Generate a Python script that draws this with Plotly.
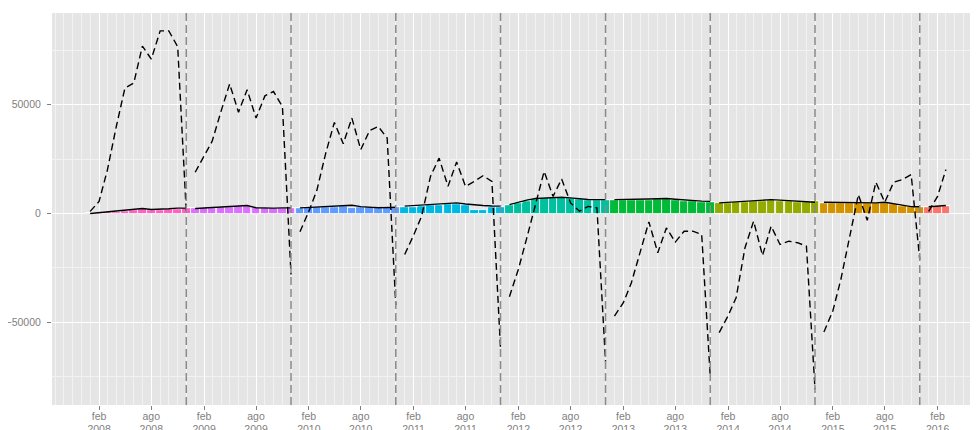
import pandas as pd
import plotly.graph_objects as go

# meses con dato (ene 2008 - mar 2016)
meses = pd.date_range("2008-01-01", "2016-03-01", freq="MS")

anios = [2008, 2009, 2010, 2011, 2012, 2013, 2014, 2015, 2016]
colores = ["#FF61C3", "#DB72FB", "#619CFF", "#00B9E3", "#00C19F",
           "#00BA38", "#93AA00", "#D39200", "#F8766D"]

# barras mensuales (parte positiva y parte negativa apilada)
barras = [
    200, 300, 600, 900, 1200, 1500, 2100, 1600, 1700, 2000, 2300, 2400,
    2400, 2500, 2700, 2900, 3100, 3300, 3600, 2500, 2400, 2400, 2500, 2500,
    2700, 2800, 2900, 3000, 3100, 3300, 2700, 3000, 2800, 2700, 2800, 2900,
    3000, 3200, 3500, 3800, 4100, 4400, 4600, 4000, 1800, 1800, 3200, 3200,
    3800, 5000, 6000, 6600, 7000, 7300, 7400, 7100, 6700, 6400, 6200, 6200,
    6100, 6100, 6200, 6300, 6400, 6500, 6500, 6300, 5900, 5700, 5500, 5400,
    4700, 4900, 5100, 5400, 5600, 5900, 6100, 5900, 5600, 5400, 5200, 5600,
    4900, 4900, 4800, 4800, 4800, 4700, 4700, 4900, 4300, 3600, 3000, 2900,
    3000, 3400, 3600,
]
barras_neg = [
    0, 0, 0, 0, 0, 0, -500, 0, 0, 0, 0, 0,
    0, 0, 0, 0, 0, 0, 0, -500, 0, 0, 0, 0,
    0, 0, 0, 0, 0, 0, -500, 0, 0, 0, 0, 0,
    0, 0, 0, 0, 0, 0, 0, 0, -800, -800, 0, 0,
    0, 0, 0, 0, 0, 0, 0, 0, 0, 0, 0, 0,
    0, 0, 0, 0, 0, 0, 0, 0, 0, 0, 0, 0,
    -400, 0, 0, 0, 0, 0, 0, 0, 0, 0, 0, 0,
    0, 0, 0, 0, 0, 0, 0, 0, 0, 0, -400, 0,
    0, 0, 0,
]
# linea continua
linea = [
    0, 400, 800, 1200, 1600, 2000, 2300, 1900, 1900, 2200, 2500, 2500,
    2300, 2500, 2800, 3000, 3200, 3400, 3700, 2700, 2500, 2500, 2600, 2600,
    2600, 2800, 3000, 3100, 3300, 3500, 3800, 3200, 2800, 2700, 2800, 2900,
    3400, 3600, 3800, 4100, 4400, 4700, 4900, 4400, 3900, 3700, 3500, 3400,
    4100, 5200, 6200, 6900, 7200, 7400, 7500, 7200, 6800, 6500, 6400, 6400,
    6400, 6400, 6500, 6600, 6700, 6800, 6900, 6600, 6200, 5900, 5700, 5600,
    4900, 5100, 5300, 5600, 5900, 6200, 6400, 6200, 5900, 5600, 5400, 5200,
    5200, 5100, 5000, 5000, 5000, 4900, 4900, 5200, 4600, 3800, 3200, 3100,
    3100, 3300, 3700,
]
# linea discontinua
diferencia = [
    1000, 5600, 20000, 40000, 57600, 60000, 77000, 71000, 84000, 84000, 76700, 500,
    19000, 26300, 33200, 47000, 59600, 46600, 56900, 43900, 54100, 56100, 49200, -28000,
    -8400, 1000, 10700, 27800, 41900, 32100, 43900, 29400, 38200, 40000, 34700, -42000,
    -18800, -10000, -1200, 17100, 25500, 12500, 23700, 12500, 14800, 17400, 14800, -62000,
    -38200, -25700, -11500, 4000, 19400, 7900, 15900, 4900, 1100, 3300, 2600, -68000,
    -47100, -41000, -31800, -18000, -3800, -18000, -6600, -13100, -8100, -8100, -9600, -75000,
    -54700, -47000, -38700, -15700, -3500, -19300, -5800, -14200, -12700, -13400, -15000, -80700,
    -54400, -44800, -30300, -9600, 8700, -3100, 14400, 5200, 14400, 15600, 17900, -21100,
    1000, 7900, 20200,
]

cortes = ["2008-12-01", "2009-12-01", "2010-12-01", "2011-12-01",
          "2012-12-01", "2013-12-01", "2014-12-01", "2015-12-01"]

x_ticks = pd.date_range("2008-02-01", "2016-02-01", freq="6MS")
x_textos = [("feb" if d.month == 2 else "ago") + "<br>" + str(d.year) for d in x_ticks]
y_ticks = [-50000, 0, 50000]
y_textos = ["\u221250000", "0", "50000"]

df = pd.DataFrame({"mes": meses, "barra": barras, "barra_neg": barras_neg,
                   "linea": linea, "dif": diferencia})
df["anio"] = df["mes"].dt.year

ancho = 30.4 * 24 * 3600 * 1000
fig = go.Figure()

for anio, color in zip(anios, colores):
    d = df[df["anio"] == anio]
    fig.add_trace(go.Bar(x=d["mes"], y=d["barra"], width=ancho,
                         marker=dict(color=color, line=dict(color="white", width=0.8))))
    fig.add_trace(go.Bar(x=d["mes"], y=d["barra_neg"], width=ancho,
                         marker=dict(color=color, line=dict(color="white", width=0.8))))

for anio in anios:
    d = df[df["anio"] == anio]
    fig.add_trace(go.Scatter(x=d["mes"], y=d["linea"], mode="lines",
                             line=dict(color="black", width=1.4)))
    fig.add_trace(go.Scatter(x=d["mes"], y=d["dif"], mode="lines",
                             line=dict(color="black", width=1.4, dash="7px,4px")))

for c in cortes:
    fig.add_shape(type="line", xref="x", yref="paper", x0=c, x1=c, y0=0, y1=1,
                  line=dict(color="#8a8a8a", width=1.5, dash="8px,4px"), layer="above")

gris = "#7f7f7f"
# la pagina deja 8px de margen en el body: la figura se ajusta a eso
fig.update_layout(
    width=970, height=422,
    margin=dict(l=44, r=4, t=5, b=25),
    paper_bgcolor="white", plot_bgcolor="#E5E5E5",
    barmode="relative", bargap=0,
    showlegend=False,
    font=dict(family="Liberation Sans, Arial, sans-serif", size=10.5, color=gris),
)
fig.update_xaxes(
    range=["2007-08-21", "2016-06-07"],
    tickmode="array", tickvals=x_ticks, ticktext=x_textos,
    ticks="outside", ticklen=4, tickcolor=gris, tickwidth=1,
    ticklabelstandoff=-3,
    showgrid=True, gridcolor="white", gridwidth=1.1,
    minor=dict(dtick="M1", tick0="2008-01-01", showgrid=True,
               gridcolor="#F2F2F2", gridwidth=0.5),
    zeroline=False, showline=False, automargin=False,
)
fig.update_yaxes(
    range=[-88000, 92200],
    tickmode="array", tickvals=y_ticks, ticktext=y_textos,
    ticks="outside", ticklen=4, tickcolor=gris, tickwidth=1,
    ticklabelstandoff=4,
    showgrid=True, gridcolor="white", gridwidth=1.1,
    minor=dict(dtick=25000, tick0=0, showgrid=True,
               gridcolor="#F2F2F2", gridwidth=0.5),
    zeroline=False, showline=False, automargin=False,
)

fig.write_html("out.html")
